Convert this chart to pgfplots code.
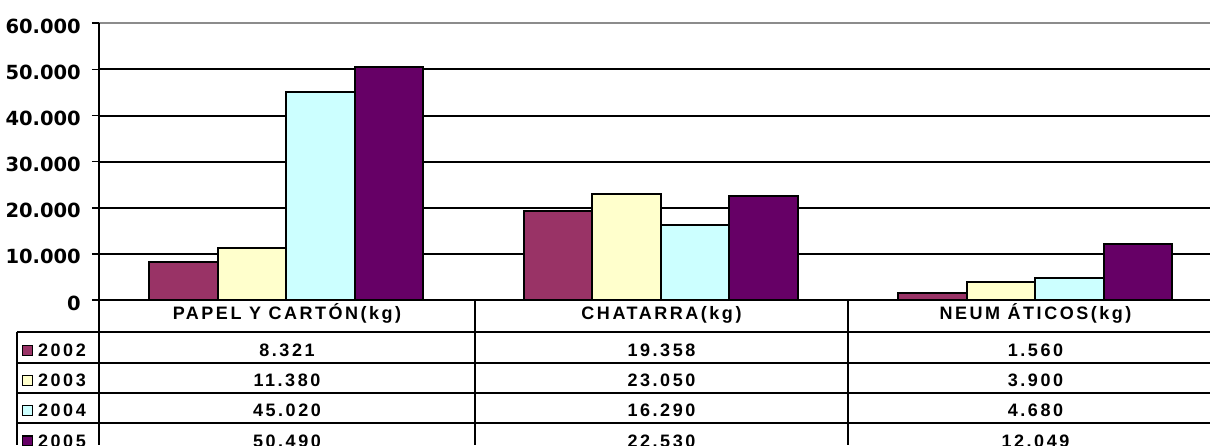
\documentclass[border=0pt]{standalone}
\usepackage{fontspec}
\usepackage{pgfplots}
\pgfplotsset{compat=1.18}
\newfontfamily\tickfont{DejaVu Sans}
\newfontfamily\tabfont{Liberation Sans}[LetterSpace=14]
\definecolor{cA}{HTML}{993366}
\definecolor{cB}{HTML}{FFFFCC}
\definecolor{cC}{HTML}{CCFFFF}
\definecolor{cD}{HTML}{660066}
\newcommand{\tf}{\tabfont\bfseries\fontsize{18}{19}\selectfont}
\begin{document}
\begin{tikzpicture}[x=1pt,y=1pt]
\useasboundingbox (0,0) rectangle (1210,445);
\clip (0,0) rectangle (1210,445);
\begin{axis}[
  at={(99pt,145pt)}, anchor=south west,
  scale only axis, width=1111pt, height=276.7pt,
  xmin=-0.5, xmax=2.4666, ymin=0, ymax=60000,
  ybar=0pt, bar width=68.5pt,
  axis line style={draw=none},
  xtick=\empty,
  ytick={0,10000,20000,30000,40000,50000},
  extra y ticks={60000},
  extra y tick style={grid style={draw=gray!90, line width=2.2pt}},
  ymajorgrids,
  grid style={black, line width=2pt},
  tick align=outside, major tick length=7pt,
  tick style={black, line width=1.6pt},
  scaled y ticks=false,
  yticklabel style={font=\tickfont\bfseries\fontsize{19.5}{20}\selectfont, anchor=east, inner sep=0pt, xshift=-11pt, yshift=-3pt},
  every axis plot/.append style={draw=black, line width=2pt},
  /pgf/number format/.cd, 1000 sep={.}, assume math mode=true,
]
\addplot[fill=cA] coordinates {(0,8321) (1,19358) (2,1560)};
\addplot[fill=cB] coordinates {(0,11380) (1,23050) (2,3900)};
\addplot[fill=cC] coordinates {(0,45020) (1,16290) (2,4680)};
\addplot[fill=cD] coordinates {(0,50490) (1,22530) (2,12049)};
\end{axis}
% table
\begin{scope}[line width=2pt, black]
\draw (99,421.7) -- (99,0);
\draw (16.7,113.3) -- (1210,113.3);
\draw (16.7,82.3) -- (1210,82.3);
\draw (16.7,51.7) -- (1210,51.7);
\draw (16.7,21.7) -- (1210,21.7);
\draw (16.7,113.3) -- (16.7,0);
\draw (475,145) -- (475,0);
\draw (848,145) -- (848,0);
\end{scope}
\node[anchor=base, inner sep=0pt, font=\tf] at (287,125.7) {PAPEL Y CARTÓN(kg)};
\node[anchor=base, inner sep=0pt, font=\tf] at (661.5,125.7) {CHATARRA(kg)};
\node[anchor=base, inner sep=0pt, font=\tf] at (1035.5,125.7) {NEUM ÁTICOS(kg)};
% rows
\foreach \b/\c/\yr/\va/\vb/\vc in {88.3/cA/2002/8.321/19.358/1.560, 58.7/cB/2003/11.380/23.050/3.900, 28.3/cC/2004/45.020/16.290/4.680, -2/cD/2005/50.490/22.530/12.049}{
  \draw[fill=\c, line width=1.2pt] (22.7,\b+1) rectangle (32.7,\b+11);
  \node[anchor=base west, inner sep=0pt, font=\tf] at (38,\b) {\yr};
  \node[anchor=base, inner sep=0pt, font=\tf] at (287,\b) {\va};
  \node[anchor=base, inner sep=0pt, font=\tf] at (661.5,\b) {\vb};
  \node[anchor=base, inner sep=0pt, font=\tf] at (1035.5,\b) {\vc};
}
\end{tikzpicture}
\end{document}
